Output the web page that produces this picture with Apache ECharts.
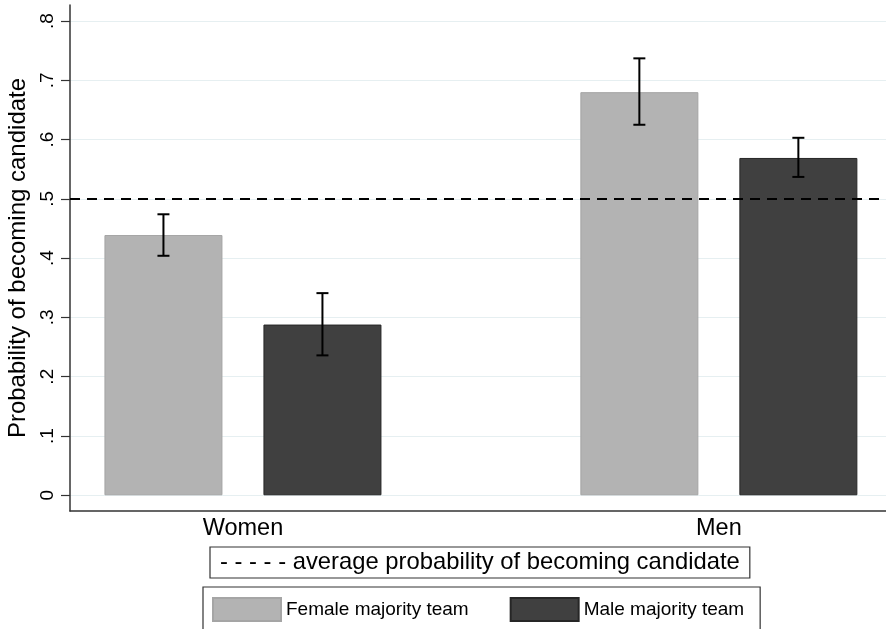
<!DOCTYPE html>
<html><head><meta charset="utf-8">
<script src="https://cdn.jsdelivr.net/npm/echarts@6/dist/echarts.min.js"></script>
<style>html,body{margin:0;padding:0;background:#fff}#c{width:886px;height:629px}</style>
</head><body><div id="c"></div>
<script>
const groups = ['Women', 'Men'];
const groupPos = [1, 2];
const femaleMean = [0.439, 0.680];
const femaleLow = [0.404, 0.625];
const femaleHigh = [0.474, 0.737];
const maleMean = [0.288, 0.569];
const maleLow = [0.236, 0.537];
const maleHigh = [0.341, 0.603];
const avgProb = 0.5;
const yTicks = [0, 0.1, 0.2, 0.3, 0.4, 0.5, 0.6, 0.7, 0.8];
const yTickLabels = ['0', '.1', '.2', '.3', '.4', '.5', '.6', '.7', '.8'];
const seriesNames = ['Female majority team', 'Male majority team'];
const avgName = '- - - - - average probability of becoming candidate';
const yTitle = 'Probability of becoming candidate';

const FONT = 'Liberation Sans, Arial, sans-serif';
const BAR_W = 118, BAR_GAP = 41;
const OFF = (BAR_W + BAR_GAP) / 2;

function errRender(offset) {
  return function (params, api) {
    const x = api.value(0), lo = api.value(1), hi = api.value(2);
    const pLo = api.coord([x, lo]), pHi = api.coord([x, hi]);
    const cx = pLo[0] + offset, hw = 6;
    const st = { stroke: '#000', lineWidth: 2 };
    return { type: 'group', children: [
      { type: 'line', shape: { x1: cx, y1: pLo[1], x2: cx, y2: pHi[1] }, style: st },
      { type: 'line', shape: { x1: cx - hw, y1: pHi[1], x2: cx + hw, y2: pHi[1] }, style: st },
      { type: 'line', shape: { x1: cx - hw, y1: pLo[1], x2: cx + hw, y2: pLo[1] }, style: st }
    ]};
  };
}

const chart = echarts.init(document.getElementById('c'), null, { renderer: 'canvas' });
chart.setOption({
  animation: false,
  backgroundColor: '#fff',
  grid: { left: 70, right: 0, top: 5, bottom: 118, containLabel: false, outerBoundsMode: 'none' },
  xAxis: {
    type: 'value', min: 0.6366, max: 2.3512,
    axisLine: { show: true, onZero: false, lineStyle: { color: '#333', width: 1.5 } },
    axisTick: { show: false },
    splitLine: { show: false },
    axisLabel: {
      customValues: groupPos,
      formatter: v => groups[groupPos.indexOf(v)],
      fontSize: 23.5, color: '#000', fontFamily: FONT, margin: 6
    }
  },
  yAxis: {
    type: 'value', min: -0.0265, max: 0.827,
    name: yTitle, nameLocation: 'middle', nameGap: 37,
    nameTextStyle: { fontSize: 24, color: '#000', fontFamily: FONT },
    axisLine: { show: true, lineStyle: { color: '#333', width: 1.5 } },
    axisTick: { show: true, customValues: yTicks, length: 9, lineStyle: { color: '#333', width: 1.2 } },
    axisLabel: {
      customValues: yTicks, rotate: 90, margin: 13,
      formatter: v => yTickLabels[yTicks.indexOf(Math.round(v * 10) / 10)],
      fontSize: 19, color: '#000', fontFamily: FONT
    },
    splitLine: { show: true, lineStyle: { color: '#e6eff1', width: 1 } }
  },
  legend: [
    {
      data: [{ name: avgName, icon: 'none' }],
      left: 210, top: 547, itemWidth: 0, itemHeight: 10,
      padding: [3, 10, 3, 5], borderColor: '#333', borderWidth: 1.2,
      selectedMode: false,
      textStyle: { fontSize: 23.8, color: '#000', fontFamily: FONT, lineHeight: 25 }
    },
    {
      data: seriesNames,
      left: 203, top: 587, itemWidth: 68, itemHeight: 23, itemGap: 41,
      padding: [10, 16, 12, 9], borderColor: '#333', borderWidth: 1.2,
      selectedMode: false, icon: 'rect',
      textStyle: { fontSize: 19, color: '#000', fontFamily: FONT }
    }
  ],
  series: [
    {
      name: seriesNames[0], type: 'bar', barWidth: BAR_W, barGap: (BAR_GAP / BAR_W * 100) + '%',
      data: groupPos.map((x, i) => [x, femaleMean[i]]),
      itemStyle: { color: '#b3b3b3', borderColor: '#a5a5a5', borderWidth: 1 },
      z: 2
    },
    {
      name: seriesNames[1], type: 'bar', barWidth: BAR_W, barGap: (BAR_GAP / BAR_W * 100) + '%',
      data: groupPos.map((x, i) => [x, maleMean[i]]),
      itemStyle: { color: '#404040', borderColor: '#262626', borderWidth: 1 },
      z: 2
    },
    {
      name: avgName, type: 'line', data: [], z: 5,
      markLine: {
        silent: true, symbol: 'none', label: { show: false },
        lineStyle: { color: '#000', width: 2, type: [10, 7] },
        data: [{ yAxis: avgProb }], z: 5
      }
    },
    {
      type: 'custom', renderItem: errRender(-OFF), z: 6,
      data: groupPos.map((x, i) => [x, femaleLow[i], femaleHigh[i]])
    },
    {
      type: 'custom', renderItem: errRender(OFF), z: 6,
      data: groupPos.map((x, i) => [x, maleLow[i], maleHigh[i]])
    }
  ]
});
</script></body></html>
